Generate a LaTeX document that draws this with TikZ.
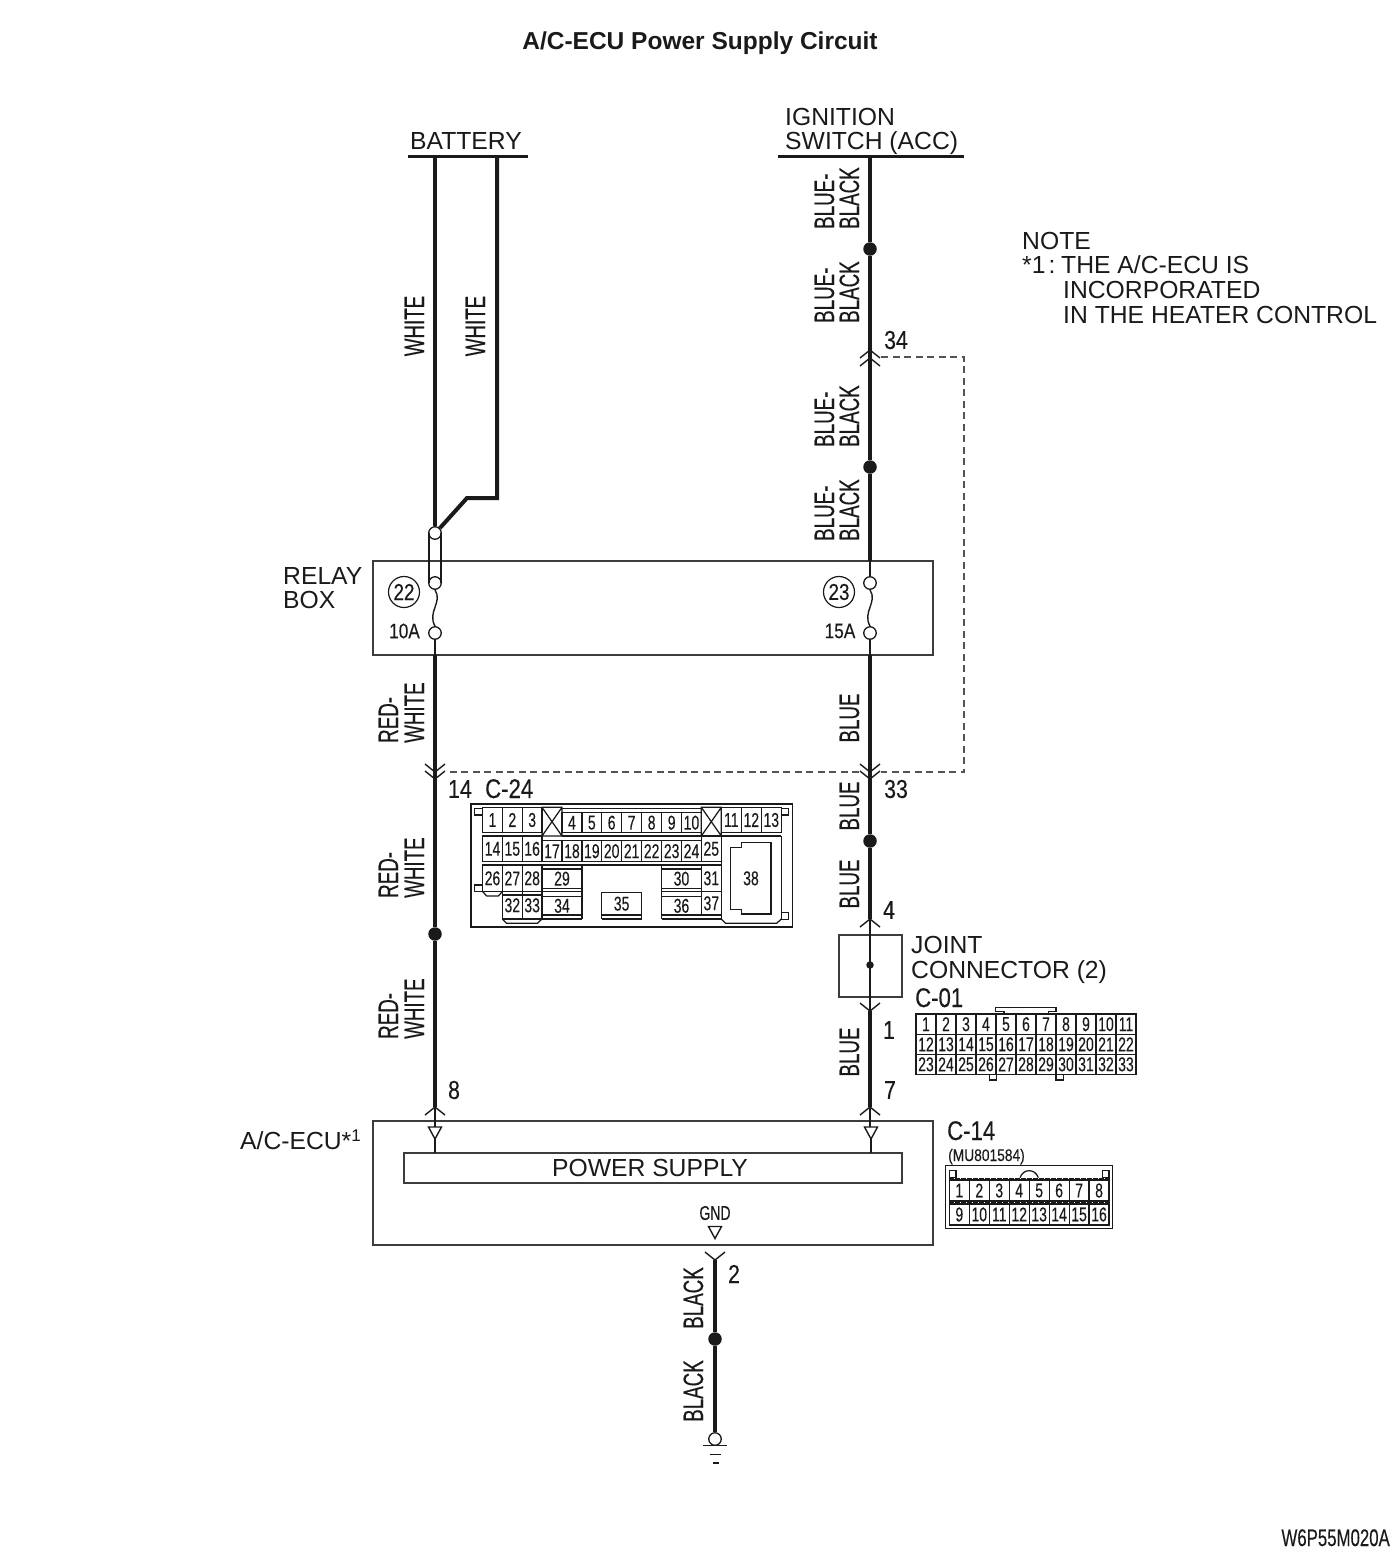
\documentclass[tikz,border=0pt]{standalone}
\usepackage{fontspec}
\setmainfont{Liberation Sans}
\newfontfamily\narr[FakeStretch=0.67,FakeBold=0.25]{Liberation Sans}
\newfontfamily\nar[FakeStretch=0.82,FakeBold=0.25]{Liberation Sans}
\newfontfamily\nat[FakeStretch=0.70,FakeBold=0.25]{Liberation Sans}
\newcommand{\fsz}[1]{\fontsize{#1}{#1}\selectfont}
\definecolor{ink}{HTML}{1A1A1A}
\tikzset{
  wire/.style={line width=4pt,draw=ink},
  thinw/.style={line width=1.4pt,draw=ink},
  boxl/.style={line width=1.3pt,draw=ink!85},
  conn/.style={line width=1.25pt,draw=ink},
  band/.style={line width=1.6pt,draw=ink,dash pattern=on 5pt off 1pt},
  dashw/.style={line width=1.3pt,draw=ink!75,dash pattern=on 7pt off 4.5pt},
  dot/.style={circle,fill=ink,draw=none,inner sep=0,minimum size=13.5pt},
  term/.style={circle,draw=ink,fill=white,line width=1.3pt,inner sep=0,minimum size=12.5pt},
  lbl/.style={inner sep=0,text=ink,font=\fsz{24.7}},
  num/.style={inner sep=0,text=ink,font=\nar\fsz{26}},
  rot/.style={inner sep=0,text=ink,font=\narr\fsz{28},rotate=90},
  cnum/.style={inner sep=0,text=ink,font=\nat\fsz{20}},
}
\newcommand{\zc}[6]{\draw[conn] (#2,#3) rectangle (#4,#5); \node[cnum] (#1) at ({(#2+#4)/2},{(#3+#5)/2}) {#6};}
\newcommand{\chup}[2]{\draw[thinw] ($(#1)+(-10,#2+8)$) -- ($(#1)+(0,#2)$) -- ($(#1)+(10,#2+8)$);}
\newcommand{\chdn}[2]{\draw[thinw] ($(#1)+(-10,#2-8)$) -- ($(#1)+(0,#2)$) -- ($(#1)+(10,#2-8)$);}
\usetikzlibrary{calc}
\begin{document}
\begin{tikzpicture}[x=1pt,y=-1pt]
\useasboundingbox (0,0) rectangle (1400,1556);
% title
\node[inner sep=0,text=ink,font=\bfseries\fsz{24.5},anchor=base] (title) at (700,49.5) {A/C-ECU Power Supply Circuit};
% supply bars
\coordinate (batL) at (408,156); \coordinate (batR) at (528,156);
\coordinate (ignL) at (778,156); \coordinate (ignR) at (964,156);
\draw[line width=3pt,draw=ink] (batL) -- (batR);
\draw[line width=3pt,draw=ink] (ignL) -- (ignR);
\node[lbl,anchor=base] (battery) at (466,149) {BATTERY};
\node[lbl,anchor=base west] (ign1) at (785,125) {IGNITION};
\node[lbl,anchor=base west] (ign2) at (785,149) {SWITCH (ACC)};
% coordinates of the wires
\coordinate (batA) at (435,156); \coordinate (batB) at (497,156);
\coordinate (bend1) at (497,498); \coordinate (bend2) at (467,498);
\coordinate (ignA) at (870,156);
% relay box
\node[draw=ink!85,line width=1.3pt,inner sep=0,minimum width=560pt,minimum height=94pt] (relay) at (653,608) {};
\node[draw=ink!85,line width=1.3pt,inner sep=0,minimum width=560pt,minimum height=124pt] (ecu) at (653,1183) {};
\node[draw=ink!85,line width=1.3pt,fill=white,inner sep=0,minimum width=498pt,minimum height=30pt] (ps) at (653,1168) {};
\node[lbl] (pstext) at (650,1168) {POWER SUPPLY};
% fuses
\node[term] (t22top) at (435,533) {};
\node[term] (t22mid) at (435,583) {};
\node[term] (t22bot) at (435,633) {};
\node[term] (t23mid) at (870,583) {};
\node[term] (t23bot) at (870,633) {};
\draw[thinw] (429,533) -- (429,583) (441,533) -- (441,583);
\draw[thinw] (t22mid.south) .. controls (443,602) and (427,612) .. (t22bot.north);
\draw[thinw] (t23mid.south) .. controls (878,602) and (862,612) .. (t23bot.north);
\node[term,minimum size=31pt,fill=none,line width=1.2pt,font=\nar\fsz{23},text=ink] (c22) at (404,592) {22};
\node[term,minimum size=31pt,fill=none,line width=1.2pt,font=\nar\fsz{23},text=ink] (c23) at (839,592) {23};
\node[inner sep=0,text=ink,font=\nar\fsz{21}] (a10) at (404.5,631) {10A};
\node[inner sep=0,text=ink,font=\nar\fsz{21}] (a15) at (840,631) {15A};
\node[lbl,anchor=base west] (rl1) at (283,584) {RELAY};
\node[lbl,anchor=base west] (rl2) at (283,608) {BOX};
% junction dots
\node[dot] (dR1) at (870,249) {};
\node[dot] (dR2) at (870,467) {};
\node[dot] (dR3) at (870,841) {};
\node[dot] (dL1) at (435,934) {};
\node[dot] (dG1) at (715,1339) {};
% free points
\coordinate (relayL) at (435,655); \coordinate (relayR) at (870,655);
\coordinate (p34) at (870,350);
\coordinate (p14) at (435,772);
\coordinate (p33) at (870,772);
\coordinate (p4top) at (870,919);
\coordinate (p1bot) at (870,1011);
\coordinate (p8) at (435,1107);
\coordinate (p7) at (870,1107);
\coordinate (p2) at (715,1260);
\coordinate (relayTR) at (870,561);
% thick wires
\draw[wire] (batA) -- (t22top.north);
\draw[wire,line join=miter] (batB) -- (bend1) -- (bend2) -- (t22top.north east);
\draw[wire] (ignA) -- (dR1);
\draw[wire] (dR1) -- (dR2);
\draw[wire] (dR2) -- (relayTR);
\draw[thinw] (relayTR) -- (t23mid.north);
\draw[thinw] (t22bot.south) -- (relayL);
\draw[thinw] (t23bot.south) -- (relayR);
\draw[wire] (relayL) -- (dL1);
\draw[wire] (dL1) -- (p8);
\draw[wire] (relayR) -- (dR3);
\draw[wire] (dR3) -- (p4top);
\draw[wire] (p1bot) -- (p7);
\draw[wire] (p2) -- (dG1);
% dashed shield loop
\coordinate (dsA) at (881,357); \coordinate (dsB) at (964,357); \coordinate (dsC) at (964,772);
\coordinate (dsD) at (881,772); \coordinate (dsE) at (859,772); \coordinate (dsF) at (446,772);
\draw[dashw] (dsA) -- (dsB) -- (dsC) -- (dsD);
\draw[dashw] (dsE) -- (dsF);
% chevrons
\chup{p34}{0} \chup{p34}{8}
\chdn{p14}{0} \chdn{p14}{7}
\chdn{p33}{0} \chdn{p33}{7}
\chup{p4top}{0}
\chdn{p1bot}{0}
\chup{p8}{0}
\chup{p7}{0}
\chdn{p2}{0}
% joint connector
\node[draw=ink!85,line width=1.3pt,inner sep=0,minimum width=63pt,minimum height=62pt] (joint) at (870.5,966) {};
\node[circle,fill=ink,inner sep=0,minimum size=7.5pt] (jdot) at (870,965) {};
\draw[thinw] (p4top) -- (p1bot);
% A/C-ECU input triangles
\newcommand{\tri}[3]{\node[inner sep=0,minimum size=0pt] (#1) at (#2,#3) {};
  \draw[thinw,fill=white] ($(#1)+(-6.5,-6)$) -- ($(#1)+(6.5,-6)$) -- ($(#1)+(0,6)$) -- cycle;}
\tri{tL}{435}{1133}
\tri{tR}{871}{1133}
\tri{tG}{715}{1232.5}
\draw[thinw] (p8) -- ($(tL)+(0,-6)$) ($(tL)+(0,6)$) -- (435,1153);
\draw[thinw] (p7) -- ($(tR)+(-1,-6)$) ($(tR)+(0,6)$) -- (871,1153);
% ground
\node[term] (gnd) at (715,1439) {};
\draw[wire] (dG1) -- (gnd.north);
\coordinate (gl1a) at (703,1445.5); \coordinate (gl1b) at (727,1445.5);
\coordinate (gl2a) at (710,1454.5); \coordinate (gl2b) at (721,1454.5);
\coordinate (gl3a) at (712.5,1463); \coordinate (gl3b) at (718.5,1463);
\draw[thinw] (gl1a) -- (gl1b) (gl2a) -- (gl2b) (gl3a) -- (gl3b);
% wire colours
\node[rot,anchor=base] (w1) at (424,326) {WHITE};
\node[rot,anchor=base] (w2) at (485,326) {WHITE};
\foreach \i/\y in {1/229,2/323,3/447,4/541}{
  \node[rot,anchor=base west] (bb\i a) at (834,\y) {BLUE-};
  \node[rot,anchor=base west] (bb\i b) at (859,\y) {BLACK};
}
\foreach \i/\y in {1/743,2/898,3/1039}{
  \node[rot,anchor=base west] (rw\i a) at (398,\y) {RED-};
  \node[rot,anchor=base west] (rw\i b) at (424,\y) {WHITE};
}
\foreach \i/\y in {1/718,2/806,3/884,4/1052}{
  \node[rot,anchor=base] (bl\i) at (859,\y) {BLUE};
}
\node[rot,anchor=base] (bk1) at (703,1298) {BLACK};
\node[rot,anchor=base] (bk2) at (703,1391) {BLACK};
% pin numbers
\node[num] (n34) at (896,340) {34};
\node[num] (n14) at (460,789) {14};
\node[num] (n33) at (896,789) {33};
\node[num] (n4) at (889,910) {4};
\node[num] (n1) at (889,1030) {1};
\node[num] (n7) at (890,1090) {7};
\node[num] (n8) at (454,1090) {8};
\node[num] (n2) at (734,1274) {2};
% labels
\node[lbl,anchor=base west] (note) at (1022,249) {NOTE};
\node[lbl,anchor=base west] (note1) at (1022,273) {*1};
\node[lbl,anchor=base] (notec) at (1052,273) {:};
\node[lbl,anchor=base west] (note1b) at (1061,273) {THE A/C-ECU IS};
\node[lbl,anchor=base west] (note2) at (1063,298) {INCORPORATED};
\node[lbl,anchor=base west] (note3) at (1063,323) {IN THE HEATER CONTROL};
\node[lbl,anchor=base west] (jc1) at (911,953) {JOINT};
\node[lbl,anchor=base west] (jc2) at (911,978) {CONNECTOR (2)};
\node[lbl,anchor=base east] (acecu) at (361,1149) {A/C-ECU*\raisebox{8pt}{\fsz{17}1}};
\node[inner sep=0,text=ink,font=\nat\fsz{20}] (gndt) at (715,1213) {GND};
\node[inner sep=0,text=ink,font=\nar\fsz{27},anchor=base west] (tc24) at (485,798) {C-24};
\node[inner sep=0,text=ink,font=\nar\fsz{27},anchor=base west] (tc01) at (915,1007) {C-01};
\node[inner sep=0,text=ink,font=\nar\fsz{27},anchor=base west] (tc14) at (947,1140) {C-14};
\node[inner sep=0,text=ink,font=\nar\fsz{16.8},anchor=base west] (mu) at (948,1161) {(MU801584)};
\node[inner sep=0,text=ink,font=\nat\fsz{24},anchor=base east] (code) at (1390,1546) {W6P55M020A};
% ---------- C-24 ----------
\begin{scope}[shift={(460pt,-770pt)},x=0.3333pt,y=-0.3333pt]
\draw[line width=1.7pt,draw=ink] (32,102) rectangle (998,472);
\draw[conn] (68,115) -- (44,115) -- (44,135) -- (68,135);
\draw[conn] (964,115) -- (985,115) -- (985,135) -- (964,135);
\draw[conn] (68,345) -- (44,345) -- (44,365) -- (68,365);
\draw[conn] (964,428) -- (985,428) -- (985,448) -- (964,448);
\zc{a1}{68}{112}{127}{188}{1}\zc{a2}{127}{112}{187}{188}{2}\zc{a3}{187}{112}{246}{188}{3}
\draw[conn] (246,112) rectangle (306,198) (246,112) -- (306,198) (306,112) -- (246,198);
\draw[conn] (306,115) -- (724,115);
\zc{a4}{306}{128}{366}{188}{4}\zc{a5}{366}{128}{425}{188}{5}\zc{a6}{425}{128}{485}{188}{6}
\zc{a7}{485}{128}{545}{188}{7}\zc{a8}{545}{128}{605}{188}{8}\zc{a9}{605}{128}{665}{188}{9}\zc{a10}{665}{128}{724}{188}{10}
\draw[conn] (724,112) rectangle (784,198) (724,112) -- (784,198) (784,112) -- (724,198);
\zc{a11}{784}{112}{844}{188}{11}\zc{a12}{844}{112}{904}{188}{12}\zc{a13}{904}{112}{964}{188}{13}
\draw[conn] (68,198) -- (246,198) (306,198) -- (724,198) (784,198) -- (964,198);
\zc{a14}{68}{198}{127}{275}{14}\zc{a15}{127}{198}{187}{275}{15}\zc{a16}{187}{198}{246}{275}{16}
\zc{a17}{246}{212}{306}{275}{17}\zc{a18}{306}{212}{366}{275}{18}\zc{a19}{366}{212}{425}{275}{19}\zc{a20}{425}{212}{485}{275}{20}
\zc{a21}{485}{212}{545}{275}{21}\zc{a22}{545}{212}{605}{275}{22}\zc{a23}{605}{212}{665}{275}{23}\zc{a24}{665}{212}{724}{275}{24}
\zc{a25}{724}{198}{784}{275}{25}
\draw[conn] (68,285) -- (784,285);
\zc{a26}{68}{285}{127}{365}{26}\zc{a27}{127}{285}{187}{365}{27}\zc{a28}{187}{285}{246}{365}{28}
\draw[conn] (68,365) -- (80,378) -- (115,378) -- (127,365);
\zc{a29}{246}{297}{366}{355}{29}\zc{a30}{605}{297}{724}{355}{30}
\zc{a31}{724}{285}{784}{365}{31}
\draw[conn] (246,365) -- (366,365) (605,365) -- (724,365) (127,375) -- (246,375);
\zc{a32}{127}{365}{187}{447}{32}\zc{a33}{187}{365}{246}{447}{33}
\draw[conn] (127,447) -- (140,460) -- (232,460) -- (246,447);
\zc{a34}{246}{380}{366}{435}{34}\zc{a35}{425}{367}{545}{435}{35}\zc{a36}{605}{380}{724}{435}{36}
\draw[conn] (246,447) -- (366,447) (425,447) -- (545,447) (605,447) -- (784,447);
\draw[conn] (425,435) -- (425,447) (545,435) -- (545,447);
\zc{a37}{724}{365}{784}{435}{37}
\draw[conn] (366,285) -- (366,447) (605,285) -- (605,447) (784,198) -- (784,447) (964,198) -- (964,447);
\draw[conn] (784,447) -- (797,460) -- (950,460) -- (964,447);
\draw[conn] (812,232) -- (845,232) -- (845,217) -- (933,217) -- (933,432) -- (845,432) -- (845,418) -- (812,418) -- cycle;
\node[cnum] (a38) at (873,325) {38};
\end{scope}
% ---------- C-01 ----------
\begin{scope}[shift={(900pt,-980pt)},x=0.3333pt,y=-0.3333pt]
\foreach \r/\ya/\yb in {0/102/163,1/163/223,2/223/283}{
  \foreach \c in {0,...,10}{
    \pgfmathtruncatemacro{\n}{\r*11+\c+1}
    \pgfmathsetmacro{\xa}{48+60*\c}
    \pgfmathsetmacro{\xb}{108+60*\c}
    \zc{b\n}{\xa}{\ya}{\xb}{\yb}{\n}
  }
}
\draw[conn] (312,102) -- (312,95) -- (287,95) -- (287,82) -- (468,82) -- (468,95) -- (445,95) -- (445,102);
\draw[conn] (268,283) -- (268,300) -- (290,300) -- (290,283);
\draw[conn] (468,283) -- (468,300) -- (490,300) -- (490,283);
\end{scope}
% ---------- C-14 ----------
\begin{scope}[shift={(900pt,-980pt)},x=0.3333pt,y=-0.3333pt]
\draw[line width=1.4pt,draw=ink] (137,557) rectangle (638,745);
\draw[conn] (148,593) -- (148,735) -- (627,735) -- (627,593);
\draw[conn] (148,572) rectangle (168,593) (607,572) rectangle (627,593);
\draw[conn] (360,593) .. controls (370,565) and (405,565) .. (415,593);
\draw[band] (148,596) -- (627,596) (148,668) -- (627,668);
\foreach \r/\ya/\yb in {0/600/663,1/672/735}{
  \foreach \c in {0,...,7}{
    \pgfmathtruncatemacro{\n}{\r*8+\c+1}
    \pgfmathsetmacro{\xa}{148+59.9*\c}
    \pgfmathsetmacro{\xb}{207.9+59.9*\c}
    \zc{c\n}{\xa}{\ya}{\xb}{\yb}{\n}
  }
}
\end{scope}
\end{tikzpicture}
\end{document}
